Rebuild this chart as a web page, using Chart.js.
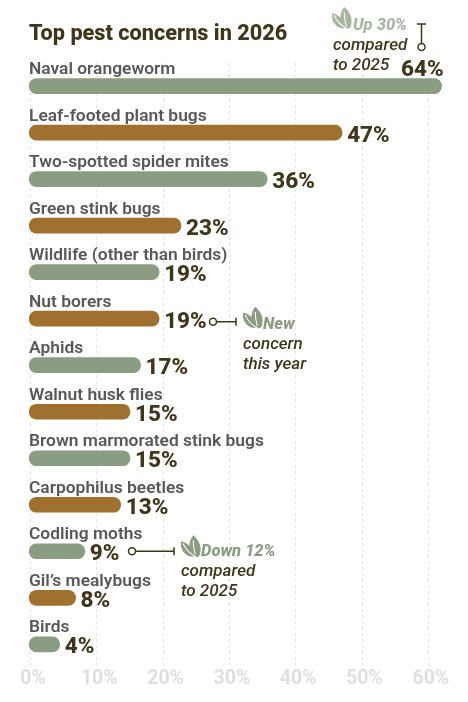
<!DOCTYPE html>
<html>
<head>
<meta charset="utf-8">
<style>
  html, body { margin: 0; padding: 0; background: #fff; }
  #wrap { width: 468px; height: 702px; }
</style>
<script src="https://cdn.jsdelivr.net/npm/chart.js@4"></script>
</head>
<body>
<div id="wrap"><canvas id="pests" width="468" height="702"></canvas></div>
<script>
// data
const pests = ['Naval orangeworm', 'Leaf-footed plant bugs', 'Two-spotted spider mites', 'Green stink bugs',
  'Wildlife (other than birds)', 'Nut borers', 'Aphids', 'Walnut husk flies', 'Brown marmorated stink bugs',
  'Carpophilus beetles', 'Codling moths', 'Gil\u2019s mealybugs', 'Birds'];
// printed percentages
const printedPct = [64, 47, 36, 23, 19, 19, 17, 15, 15, 13, 9, 8, 4];
// the bar lengths as drawn against the axis (the original bars are not quite to scale)
const barLengths = [62, 47, 35.7, 22.7, 19.4, 19.4, 16.6, 15, 15, 13.6, 8.2, 6.8, 4.4];
const xTicks = [0, 10, 20, 30, 40, 50, 60];

const GREEN = '#8a9c82';
const BROWN = '#a0702f';
const DARK = '#40361a';
const FONT = 'Roboto, sans-serif';

function leaf(ctx, x, y, s, color) {
  ctx.save();
  ctx.translate(x, y);
  ctx.scale(s, s);
  ctx.fillStyle = color;
  // back lobe
  ctx.beginPath();
  ctx.moveTo(15, 22);
  ctx.bezierCurveTo(6, 16, 7, 6, 12, 0);
  ctx.bezierCurveTo(18, 5, 21, 12, 18, 20);
  ctx.closePath();
  ctx.fill();
  // front lobe
  ctx.beginPath();
  ctx.moveTo(12, 21);
  ctx.bezierCurveTo(4, 21, -1, 14, 0, 6);
  ctx.bezierCurveTo(7, 7, 13, 13, 12, 21);
  ctx.closePath();
  ctx.fill();
  ctx.strokeStyle = '#fff';
  ctx.lineWidth = 1;
  ctx.beginPath();
  ctx.moveTo(2, 8);
  ctx.quadraticCurveTo(6, 17, 16, 22);
  ctx.moveTo(12, 5);
  ctx.quadraticCurveTo(12, 12, 14, 19);
  ctx.stroke();
  ctx.restore();
}

function connector(ctx, x1, y1, x2, y2) {
  ctx.save();
  ctx.strokeStyle = DARK;
  ctx.lineWidth = 1.5;
  const horiz = y1 === y2;
  const dir = horiz ? Math.sign(x2 - x1) : Math.sign(y2 - y1);
  ctx.beginPath();
  if (horiz) {
    ctx.moveTo(x1 + dir * 3.5, y1);
    ctx.lineTo(x2, y2);
    ctx.moveTo(x2, y2 - 4);
    ctx.lineTo(x2, y2 + 4);
  } else {
    ctx.moveTo(x1, y1 + dir * 3.5);
    ctx.lineTo(x2, y2);
    ctx.moveTo(x2 - 4.5, y2);
    ctx.lineTo(x2 + 4.5, y2);
  }
  ctx.stroke();
  ctx.beginPath();
  ctx.arc(x1, y1, 3.5, 0, Math.PI * 2);
  ctx.stroke();
  ctx.restore();
}

function note(ctx, x, y, head, headColor, lines) {
  ctx.save();
  ctx.textAlign = 'left';
  ctx.textBaseline = 'alphabetic';
  ctx.fillStyle = headColor;
  ctx.font = 'italic 800 16.5px ' + FONT;
  ctx.fillText(head, x + 20, y);
  ctx.fillStyle = DARK;
  ctx.font = 'italic 500 17px ' + FONT;
  lines.forEach(function (l, i) {
    ctx.fillText(l, x, y + 20 + i * 20);
  });
  ctx.restore();
}

const textPlugin = {
  id: 'pestText',
  afterDatasetsDraw(chart) {
    const ctx = chart.ctx;
    const xs = chart.scales.x;
    const ys = chart.scales.y;
    ctx.save();
    ctx.textBaseline = 'alphabetic';

    // title
    ctx.fillStyle = DARK;
    ctx.font = '800 21.7px ' + FONT;
    ctx.textAlign = 'left';
    ctx.fillText('Top pest concerns in 2026', 29, 40);

    pests.forEach(function (name, i) {
      const yc = ys.getPixelForValue(i);
      ctx.fillStyle = '#58585a';
      ctx.font = '600 17.4px ' + FONT;
      ctx.textAlign = 'left';
      ctx.fillText(name, 29, yc - 12);

      ctx.fillStyle = DARK;
      ctx.font = '800 22.5px ' + FONT;
      const end = xs.getPixelForValue(barLengths[i]);
      if (i === 0) {
        ctx.textAlign = 'right';
        ctx.fillText(printedPct[i] + '%', end + 2, yc - 10);
      } else {
        ctx.textAlign = 'left';
        ctx.fillText(printedPct[i] + '%', end + 5, yc + 9);
      }
    });
    ctx.restore();

    // callouts, hung off the bars they belong to
    const y0 = ys.getPixelForValue(0);
    const y5 = ys.getPixelForValue(5);
    const y10 = ys.getPixelForValue(10);

    leaf(ctx, 332, y0 - 79, 1.02, '#a7b79f');
    note(ctx, 333, y0 - 56, 'Up 30%', '#a7b79f', ['compared', 'to 2025']);
    connector(ctx, 421.5, y0 - 39, 421.5, y0 - 62);

    leaf(ctx, 243, y5 - 12, 1.02, GREEN);
    note(ctx, 243, y5 + 10, 'New', GREEN, ['concern', 'this year']);
    connector(ctx, 213, y5 + 3, 236, y5 + 3);

    leaf(ctx, 181, y10 - 16, 1.02, GREEN);
    note(ctx, 181, y10 + 5, 'Down 12%', GREEN, ['compared', 'to 2025']);
    connector(ctx, 132, y10, 174, y10);
  }
};

new Chart(document.getElementById('pests'), {
  type: 'bar',
  data: {
    labels: pests,
    datasets: [{
      data: barLengths,
      base: -0.2,
      clip: false,
      backgroundColor: pests.map(function (p, i) { return i % 2 === 0 ? GREEN : BROWN; }),
      borderRadius: 8,
      borderSkipped: false,
      barThickness: 15
    }]
  },
  options: {
    indexAxis: 'y',
    responsive: false,
    animation: false,
    layout: { padding: { left: 30.5, right: 6.5, top: 62.8, bottom: 11 } },
    plugins: { legend: { display: false }, tooltip: { enabled: false }, title: { display: false } },
    scales: {
      x: {
        min: 0,
        max: 65,
        afterBuildTicks(axis) { axis.ticks = xTicks.map(function (v) { return { value: v }; }); },
        grid: { color: '#e4e4e4', lineWidth: 1, tickLength: 0, drawTicks: false },
        border: { display: false, dash: [3, 3] },
        ticks: {
          color: '#dfdfdf',
          font: { family: FONT, size: 19.5, weight: 'bold' },
          padding: 0,
          labelOffset: 2.5,
          maxRotation: 0,
          autoSkip: false,
          callback: function (v) { return v + '%'; }
        }
      },
      y: { display: false }
    }
  },
  plugins: [textPlugin]
});
</script>
</body>
</html>
